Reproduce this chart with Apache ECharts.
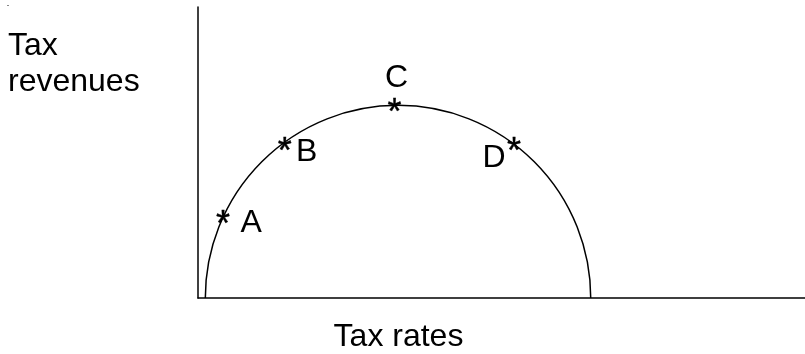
<!DOCTYPE html>
<html>
<head>
<meta charset="utf-8">
<script src="https://cdn.jsdelivr.net/npm/echarts@6/dist/echarts.min.js"></script>
<style>
html,body{margin:0;padding:0;background:#fff;}
#chart{width:805px;height:354px;}
</style>
</head>
<body>
<div id="chart"></div>
<script>
// ---- data ----
var xRange = [0, 315];          // tax rate axis extent
var yRange = [0, 151];          // tax revenue axis extent
var curveCenterX = 103.8;       // semicircle (Laffer curve) centre on the x axis
var curveRadius = 100;          // semicircle radius
var pointNames = ['A', 'B', 'C', 'D'];
var pointX = [13, 45, 102, 164];
var pointY = [42, 80, 100, 80];
var yAxisTitle = ['Tax', 'revenues'];
var xAxisTitle = 'Tax rates';

// ---- styling (not data) ----
var FONT = 'Liberation Sans, Arial, Helvetica, sans-serif';
var FS = 32;
var STAR_FS = 36;
var labelOffsets = {A: [28, 6], B: [22, 8], C: [2, -27], D: [-20, 14]};

var chart = echarts.init(document.getElementById('chart'), null, {renderer: 'canvas'});

var axisCommon = {
  type: 'value',
  axisLine: {show: true, onZero: false, lineStyle: {color: '#000', width: 1.5}},
  axisTick: {show: false},
  axisLabel: {show: false},
  splitLine: {show: false}
};

var option = {
  backgroundColor: '#fff',
  animation: false,
  grid: {left: 198, right: 0, top: 7, bottom: 56},
  xAxis: Object.assign({}, axisCommon, {min: xRange[0], max: xRange[1]}),
  yAxis: Object.assign({}, axisCommon, {min: yRange[0], max: yRange[1]}),
  series: [
    {
      type: 'custom',
      name: 'curve',
      data: [[curveCenterX, curveRadius]],
      renderItem: function (params, api) {
        var c = api.coord([api.value(0), 0]);
        var e = api.coord([api.value(0) + api.value(1), 0]);
        return {
          type: 'arc',
          shape: {cx: c[0], cy: c[1], r: e[0] - c[0], startAngle: Math.PI, endAngle: 2 * Math.PI, clockwise: true},
          style: {stroke: '#000', lineWidth: 1.5, fill: null}
        };
      },
      silent: true
    },
    {
      type: 'custom',
      name: 'points',
      data: pointNames.map(function (n, i) { return [pointX[i], pointY[i], n]; }),
      renderItem: function (params, api) {
        var p = api.coord([api.value(0), api.value(1)]);
        var name = pointNames[params.dataIndex];
        var off = labelOffsets[name];
        return {
          type: 'group',
          children: [
            {
              type: 'text',
              x: p[0], y: p[1] + 9,
              style: {text: '*', fill: '#000', font: STAR_FS + 'px ' + FONT, align: 'center', verticalAlign: 'middle', stroke: '#000', lineWidth: 0.4}
            },
            {
              type: 'text',
              x: p[0] + off[0], y: p[1] + off[1],
              style: {text: name, fill: '#000', font: FS + 'px ' + FONT, align: 'center', verticalAlign: 'middle'}
            }
          ]
        };
      },
      silent: true
    }
  ],
  graphic: [
    {type: 'text', left: 8, top: 30, style: {text: yAxisTitle[0], fill: '#000', font: FS + 'px ' + FONT}},
    {type: 'text', left: 8, top: 66, style: {text: yAxisTitle[1], fill: '#000', font: FS + 'px ' + FONT}},
    {type: 'text', x: 398.5, y: 321, style: {text: xAxisTitle, fill: '#000', font: FS + 'px ' + FONT, align: 'center', verticalAlign: 'top'}},
    {type: 'rect', shape: {x: 7, y: 5, width: 2, height: 1}, style: {fill: '#888'}}
  ]
};
chart.setOption(option);
</script>
</body>
</html>
